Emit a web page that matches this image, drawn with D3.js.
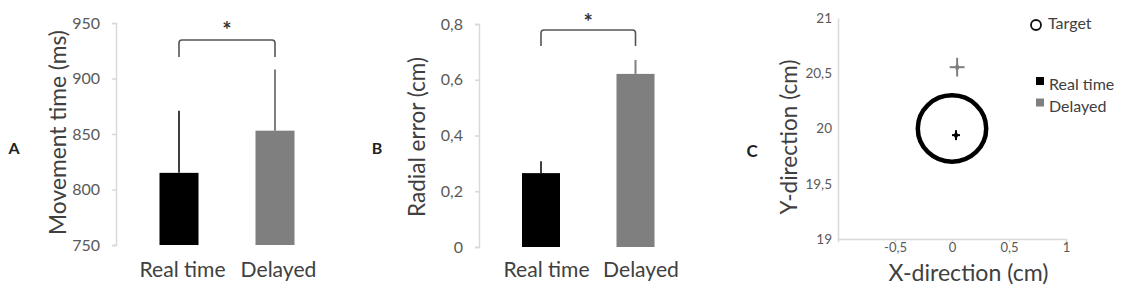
<!DOCTYPE html>
<html><head><meta charset="utf-8">
<script src="https://cdn.jsdelivr.net/npm/d3@7"></script>
<style>
html,body{margin:0;padding:0;background:#fff;}
svg{display:block;}
text{font-family:Lato,"Open Sans",sans-serif;}
</style></head>
<body>
<svg id="chart" width="1128" height="288"></svg>
<script>
// ---- data ----
const categories = ["Real time", "Delayed"];
const barColors = ["#000000", "#7f7f7f"];
// Panel A: movement time (ms)
const movementMean = [815, 853];
const movementErr = [56, 55];
const movementTicks = [750, 800, 850, 900, 950];
// Panel B: radial error (cm)
const radialMean = [0.265, 0.621];
const radialErr = [0.043, 0.05];
const radialTicks = [0, 0.2, 0.4, 0.6, 0.8];
// Panel C: endpoint positions (cm)
const endX = [0.035, 0.045];
const endY = [19.94, 20.555];
const endErrX = [0.035, 0.065];
const endErrY = [0.045, 0.085];
const targetX = [0];
const targetY = [20];
const targetR = [0.3];
const cXTicks = [-0.5, 0, 0.5, 1];
const cYTicks = [19, 19.5, 20, 20.5, 21];

const svg = d3.select("#chart");
const fmt = d => String(d).replace(".", ",");
const axisCol = "#d9d9d9", tickCol = "#595959", titleCol = "#404040";

// scale font-size of a selection so its total rendered width equals target
function fitWidth(sel, target) {
  let w = 0;
  sel.each(function () { w += this.getComputedTextLength(); });
  const fs = parseFloat(sel.style("font-size"));
  sel.style("font-size", (fs * target / w).toFixed(2) + "px");
}

function yAxis(g, y, ticks, x0, fs) {
  const ax = d3.axisLeft(y).tickValues(ticks).tickFormat(fmt).tickSize(4).tickPadding(12);
  const a = g.append("g").attr("transform", `translate(${x0},0)`).call(ax);
  a.select(".domain").attr("stroke", axisCol).attr("stroke-width", 1.5);
  a.selectAll(".tick line").attr("stroke", axisCol).attr("stroke-width", 1.5);
  a.selectAll(".tick text").attr("fill", tickCol).style("font-size", fs + "px").style("font-family", "Lato,sans-serif");
  return a;
}

function barPanel(opts) {
  const g = svg.append("g");
  const y = d3.scaleLinear().domain(opts.domain).range(opts.yRange);
  const x = d3.scalePoint().domain(categories).range(opts.xRange);
  yAxis(g, y, opts.ticks, opts.axisX, opts.tickFs);
  // error bars
  g.selectAll(".err").data(categories).join("line")
    .attr("x1", d => x(d)).attr("x2", d => x(d))
    .attr("y1", (d, i) => y(opts.mean[i]))
    .attr("y2", (d, i) => y(opts.mean[i] + opts.err[i]))
    .attr("stroke", (d, i) => i === 0 ? "#404040" : "#7f7f7f").attr("stroke-width", 2);
  // bars
  g.selectAll(".bar").data(categories).join("rect")
    .attr("x", d => x(d) - opts.barW / 2)
    .attr("width", opts.barW)
    .attr("y", (d, i) => y(opts.mean[i]))
    .attr("height", (d, i) => y(opts.domain[0]) - y(opts.mean[i]))
    .attr("fill", (d, i) => barColors[i]);
  // category labels
  const cats = g.selectAll(".cat").data(categories).join("text")
    .attr("x", d => x(d) + opts.catOff).attr("y", 277).attr("text-anchor", "middle")
    .attr("fill", titleCol).style("font-size", "20px").text(d => d);
  fitWidth(cats, opts.catW);
  // significance bracket
  const xa = x(categories[0]), xb = x(categories[1]);
  const by = opts.bracketY, bd = opts.bracketD, r = 3;
  g.append("path")
    .attr("d", `M${xa},${by + bd} L${xa},${by + r} Q${xa},${by} ${xa + r},${by} L${xb - r},${by} Q${xb},${by} ${xb},${by + r} L${xb},${by + bd}`)
    .attr("fill", "none").attr("stroke", "#555").attr("stroke-width", 1.6);
  g.append("text").attr("x", (xa + xb) / 2).attr("y", opts.starY).attr("text-anchor", "middle")
    .attr("fill", "#333").style("font-size", "22px").style("font-weight", "bold").text("*");
  // y title
  const t = g.append("text").attr("transform", `translate(${opts.titleX},${opts.titleY}) rotate(-90)`)
    .attr("text-anchor", "middle").attr("fill", titleCol).style("font-size", "20px").text(opts.title);
  fitWidth(t, opts.titleW);
  // panel letter
  g.append("text").attr("x", opts.letterX).attr("y", 154).attr("text-anchor", "middle")
    .attr("fill", "#222").style("font-size", "16px").style("font-weight", "bold").text(opts.letter);
}

barPanel({domain: [750, 950], yRange: [245, 23], xRange: [179, 275], axisX: 116,
  ticks: movementTicks, mean: movementMean, err: movementErr, barW: 39,
  tickFs: 16, catW: 162, catOff: 3.5, bracketY: 40, bracketD: 17, starY: 37.5,
  titleX: 66, titleY: 132.5, titleW: 205, title: "Movement time (ms)", letter: "A", letterX: 14});

barPanel({domain: [0, 0.8], yRange: [247, 24], xRange: [541, 635.5], axisX: 479,
  ticks: radialTicks, mean: radialMean, err: radialErr, barW: 38,
  tickFs: 16, catW: 162, catOff: 5.5, bracketY: 30, bracketD: 16, starY: 29.5,
  titleX: 425, titleY: 137, titleW: 160, title: "Radial error (cm)", letter: "B", letterX: 377});

// ---- Panel C ----
{
  const g = svg.append("g");
  const x = d3.scaleLinear().domain([-1, 1]).range([838, 1066]);
  const y = d3.scaleLinear().domain([19, 21]).range([239, 18]);
  const ya = d3.axisLeft(y).tickValues(cYTicks).tickFormat(fmt).tickSize(0).tickPadding(6);
  const ay = g.append("g").attr("transform", "translate(838,0)").call(ya);
  ay.select(".domain").attr("stroke", axisCol).attr("stroke-width", 1.5);
  ay.selectAll(".tick text").attr("fill", tickCol).style("font-size", "13.5px").style("font-family", "Lato,sans-serif");
  const xa = d3.axisBottom(x).tickValues(cXTicks).tickFormat(fmt).tickSize(3).tickPadding(1);
  const ax = g.append("g").attr("transform", "translate(0,239)").call(xa);
  ax.select(".domain").attr("stroke", axisCol).attr("stroke-width", 1.5);
  ax.selectAll(".tick line").attr("stroke", axisCol).attr("stroke-width", 1.5);
  ax.selectAll(".tick text").attr("fill", tickCol).style("font-size", "13px").style("font-family", "Lato,sans-serif");

  // target circle
  g.selectAll(".target").data(targetX).join("ellipse")
    .attr("cx", d => x(d)).attr("cy", (d, i) => y(targetY[i]))
    .attr("rx", (d, i) => x(targetR[i]) - x(0)).attr("ry", (d, i) => y(0) - y(targetR[i]))
    .attr("fill", "none").attr("stroke", "#000").attr("stroke-width", 4.5);

  const cols = ["#000000", "#7f7f7f"];
  const pts = g.selectAll(".pt").data(categories).join("g");
  pts.append("line")
    .attr("x1", (d, i) => x(endX[i] - endErrX[i])).attr("x2", (d, i) => x(endX[i] + endErrX[i]))
    .attr("y1", (d, i) => y(endY[i])).attr("y2", (d, i) => y(endY[i]))
    .attr("stroke", (d, i) => cols[i]).attr("stroke-width", 2);
  pts.append("line")
    .attr("x1", (d, i) => x(endX[i])).attr("x2", (d, i) => x(endX[i]))
    .attr("y1", (d, i) => y(endY[i] - endErrY[i])).attr("y2", (d, i) => y(endY[i] + endErrY[i]))
    .attr("stroke", (d, i) => cols[i]).attr("stroke-width", 2);
  pts.append("path")
    .attr("transform", (d, i) => `translate(${x(endX[i])},${y(endY[i])})`)
    .attr("d", d3.symbol(d3.symbolDiamond, 22)())
    .attr("fill", (d, i) => cols[i]);

  // titles
  const xt = g.append("text").attr("x", 968.5).attr("y", 281).attr("text-anchor", "middle")
    .attr("fill", titleCol).style("font-size", "20px").text("X-direction (cm)");
  fitWidth(xt, 160);
  const yt = g.append("text").attr("transform", "translate(797,137) rotate(-90)").attr("text-anchor", "middle")
    .attr("fill", titleCol).style("font-size", "20px").text("Y-direction (cm)");
  fitWidth(yt, 155);
  g.append("text").attr("x", 752).attr("y", 157).attr("text-anchor", "middle")
    .attr("fill", "#222").style("font-size", "17px").style("font-weight", "bold").text("C");

  // legend
  const lg = g.append("g");
  lg.append("circle").attr("cx", 1036).attr("cy", 25).attr("r", 5).attr("fill", "none").attr("stroke", "#111").attr("stroke-width", 1.8);
  lg.append("text").attr("x", 1048).attr("y", 29).attr("fill", titleCol).style("font-size", "16px").text("Target");
  lg.selectAll(".lr").data(categories).join("rect")
    .attr("x", 1036).attr("y", (d, i) => 77 + i * 21.5).attr("width", 8).attr("height", 8)
    .attr("fill", (d, i) => cols[i]);
  lg.selectAll(".lt").data(categories).join("text")
    .attr("x", 1049).attr("y", (d, i) => 90 + i * 21.5).attr("fill", titleCol)
    .style("font-size", "16px").text(d => d);
}
</script>
</body></html>
